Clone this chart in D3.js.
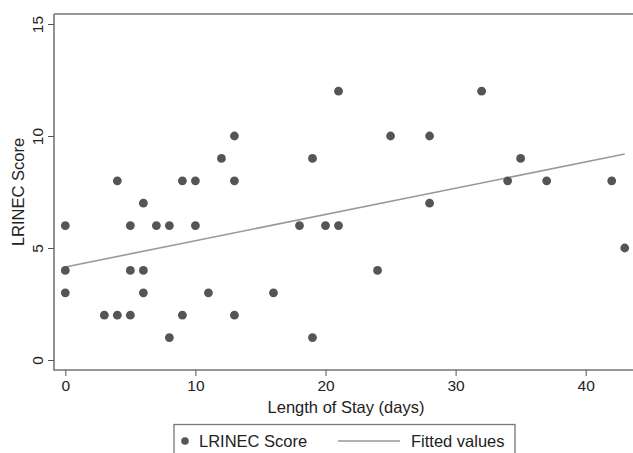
<!DOCTYPE html>
<html>
<head>
<meta charset="utf-8">
<script src="https://cdn.jsdelivr.net/npm/d3@7"></script>
<style>
  body { margin: 0; background: #fff; }
  text { font-family: "Liberation Sans", Arial, sans-serif; fill: #222; }
</style>
</head>
<body>
<svg id="chart" width="633" height="453"></svg>
<script>
// data
const stayDays = [0, 0, 0, 3, 4, 4, 5, 5, 5, 6, 6, 6, 7, 8, 8, 9, 9, 10, 10, 11, 12,
  13, 13, 13, 16, 18, 19, 19, 20, 21, 21, 24, 25, 28, 28, 32, 34, 35, 37, 42, 43];
const lrinec = [6, 4, 3, 2, 8, 2, 6, 4, 2, 7, 4, 3, 6, 6, 1, 8, 2, 8, 6, 3, 9,
  10, 8, 2, 3, 6, 9, 1, 6, 12, 6, 4, 10, 10, 7, 12, 8, 9, 8, 8, 5];
const xTicks = [0, 10, 20, 30, 40];
const yTicks = [0, 5, 10, 15];
const legendLabels = ["LRINEC Score", "Fitted values"];

const svg = d3.select("#chart");

// plot frame
const frameL = 54, frameT = 14, frameB = 370;
const x = d3.scaleLinear().domain([0, 40]).range([65.3, 585.7]);
const y = d3.scaleLinear().domain([0, 15]).range([360, 24]);

// least squares fit over the points
const mx = d3.mean(stayDays), my = d3.mean(lrinec);
let sxy = 0, sxx = 0;
stayDays.forEach((d, i) => {
  sxy += (d - mx) * (lrinec[i] - my);
  sxx += (d - mx) * (d - mx);
});
const slope = sxy / sxx, icpt = my - slope * mx;
const xExt = d3.extent(stayDays);

svg.append("path")
  .attr("d", `M${frameL},${frameT}H640M${frameL},${frameT}V${frameB}H640`)
  .attr("fill", "none")
  .attr("stroke", "#777")
  .attr("stroke-width", 1.6);

// y axis ticks, labels turned on their side
const yAxis = svg.append("g")
  .attr("transform", `translate(${frameL},0)`)
  .call(d3.axisLeft(y).tickValues(yTicks).tickSize(6));
yAxis.select(".domain").remove();
yAxis.selectAll("line").attr("stroke", "#555");
yAxis.selectAll("text")
  .attr("x", null).attr("dy", null).attr("y", 0)
  .attr("text-anchor", "middle")
  .attr("font-size", 15.5)
  .attr("fill", "#222")
  .attr("transform", "translate(-11,0) rotate(-90)");

// x axis ticks
const xAxis = svg.append("g")
  .attr("transform", `translate(0,${frameB})`)
  .call(d3.axisBottom(x).tickValues(xTicks).tickSize(6).tickPadding(4));
xAxis.select(".domain").remove();
xAxis.selectAll("line").attr("stroke", "#555");
xAxis.selectAll("text").attr("font-size", 15.5).attr("fill", "#222");

// fitted line
svg.append("line")
  .attr("x1", x(xExt[0])).attr("y1", y(icpt + slope * xExt[0]))
  .attr("x2", x(xExt[1])).attr("y2", y(icpt + slope * xExt[1]))
  .attr("stroke", "#999")
  .attr("stroke-width", 1.6);

// points
svg.append("g").selectAll("circle")
  .data(stayDays)
  .join("circle")
  .attr("cx", d => x(d))
  .attr("cy", (d, i) => y(lrinec[i]))
  .attr("r", 4.4)
  .attr("fill", "#555");

// axis titles
svg.append("text")
  .attr("transform", `translate(24,192) rotate(-90)`)
  .attr("text-anchor", "middle")
  .attr("font-size", 16.5)
  .text("LRINEC Score");

svg.append("text")
  .attr("x", 346).attr("y", 413)
  .attr("text-anchor", "middle")
  .attr("font-size", 16.5)
  .text("Length of Stay (days)");

// legend
const lg = svg.append("g");
lg.append("rect")
  .attr("x", 174).attr("y", 424.5)
  .attr("width", 341).attr("height", 40)
  .attr("fill", "#fff")
  .attr("stroke", "#777")
  .attr("stroke-width", 1.3);
lg.append("circle")
  .attr("cx", 185).attr("cy", 441).attr("r", 3.8)
  .attr("fill", "#555");
lg.append("text")
  .attr("x", 199).attr("y", 447)
  .attr("font-size", 16.5)
  .text(legendLabels[0]);
lg.append("line")
  .attr("x1", 338).attr("x2", 400)
  .attr("y1", 441).attr("y2", 441)
  .attr("stroke", "#999").attr("stroke-width", 1.6);
lg.append("text")
  .attr("x", 411).attr("y", 447)
  .attr("font-size", 16.5)
  .text(legendLabels[1]);
</script>
</body>
</html>
